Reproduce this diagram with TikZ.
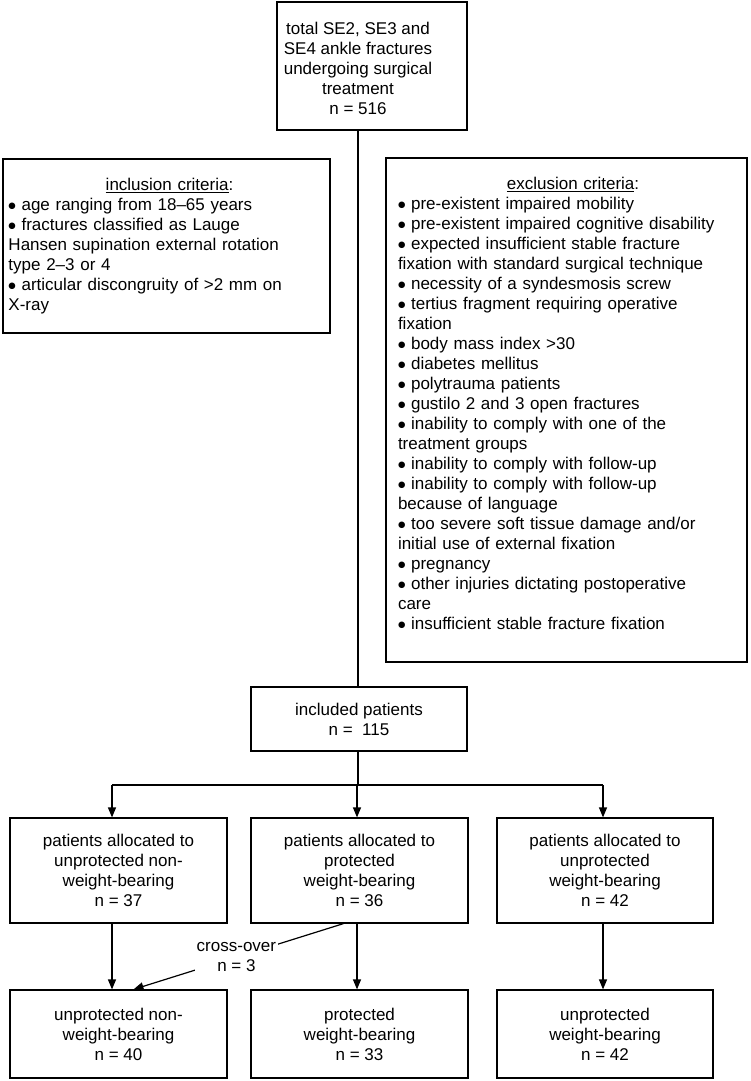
\documentclass[tikz,border=0pt]{standalone}
\usepackage{fontspec}
\setmainfont{Liberation Sans}
\newfontfamily\dejavu{DejaVu Sans}
\usetikzlibrary{arrows.meta}
\newcommand\blt{\raisebox{2pt}{\dejavu\fontsize{8.5}{8.5}\selectfont ●}}
\begin{document}
\begin{tikzpicture}[x=1pt,y=-1pt,
  box/.style={draw=black, line width=1.2pt, rectangle, inner sep=0pt, align=center,
    font=\fontsize{17}{20}\selectfont},
  txt/.style={font=\fontsize{17}{20}\selectfont},
  ln/.style={line width=1.2pt},
  arr/.style={line width=1.2pt, -{Triangle[length=10pt,width=8pt]}}]
\useasboundingbox (0,0) rectangle (750,1081);

% top
\node[box, minimum width=190pt, minimum height=128pt] (top) at (372,66) {};
\node[txt, align=center] (toptext) at (358,68) {total SE2, SE3 and\\SE4 ankle fractures\\undergoing surgical\\treatment\\n = 516};

% inclusion
\node[box, minimum width=327pt, minimum height=174pt, text width=316pt, align=left] (inc) at (166.5,246) {%
\makebox[316pt][c]{\hspace*{6pt}\underline{inclusion criteria}:}\\
\blt\ age ranging from 18–65 years\\
\blt\ fractures classified as Lauge\\
Hansen supination external rotation\\
type 2–3 or 4\\
\blt\ articular discongruity of >2 mm on\\
X-ray};

% exclusion
\node[box, minimum width=361pt, minimum height=504pt, text width=337pt, align=left] (exc) at (566.5,410) {%
\makebox[337pt][c]{\hspace*{13pt}\underline{exclusion criteria}:}\\
\blt\ pre-existent impaired mobility\\
\blt\ pre-existent impaired cognitive disability\\
\blt\ expected insufficient stable fracture\\
fixation with standard surgical technique\\
\blt\ necessity of a syndesmosis screw\\
\blt\ tertius fragment requiring operative\\
fixation\\
\blt\ body mass index >30\\
\blt\ diabetes mellitus\\
\blt\ polytrauma patients\\
\blt\ gustilo 2 and 3 open fractures\\
\blt\ inability to comply with one of the\\
treatment groups\\
\blt\ inability to comply with follow-up\\
\blt\ inability to comply with follow-up\\
because of language\\
\blt\ too severe soft tissue damage and/or\\
initial use of external fixation\\
\blt\ pregnancy\\
\blt\ other injuries dictating postoperative\\
care\\
\blt\ insufficient stable fracture fixation\rule[-14pt]{0pt}{14pt}};

% included
\node[box, minimum width=216pt, minimum height=64pt] (incl) at (359,719) {included patients\\n = \ 115};

% groups
\node[box, minimum width=217pt, minimum height=105pt] (g1) at (118.5,870.5) {patients allocated to\\unprotected non-\\weight-bearing\\n = 37};
\node[box, minimum width=217pt, minimum height=105pt] (g2) at (359.5,870.5) {patients allocated to\\protected\\weight-bearing\\n = 36};
\node[box, minimum width=216pt, minimum height=105pt] (g3) at (605,870.5) {patients allocated to\\unprotected\\weight-bearing\\n = 42};

% outcomes
\node[box, minimum width=217pt, minimum height=88pt] (b1) at (118.5,1034) {unprotected non-\\weight-bearing\\n = 40};
\node[box, minimum width=217pt, minimum height=88pt] (b2) at (359.5,1034) {protected\\weight-bearing\\n = 33};
\node[box, minimum width=216pt, minimum height=88pt] (b3) at (605,1034) {unprotected\\weight-bearing\\n = 42};

% connectors
\coordinate (split) at (358,785);
\draw[ln] (top.south -| split) -- (split |- incl.north);
\draw[ln] (split |- incl.south) -- (split);
\coordinate (a1) at ([xshift=-6.5pt]g1.north);
\coordinate (a2) at ([xshift=-2.5pt]g2.north);
\coordinate (a3) at ([xshift=-2pt]g3.north);
\draw[ln] (a1 |- split) -- (a3 |- split);
\draw[arr] (a1 |- split) -- (a1);
\draw[arr] (a2 |- split) -- (a2);
\draw[arr] (a3 |- split) -- (a3);
\coordinate (c1) at ([xshift=-6.5pt]b1.north);
\coordinate (c2) at ([xshift=-2.5pt]b2.north);
\coordinate (c3) at ([xshift=-2pt]b3.north);
\draw[arr] (c1 |- g1.south) -- (c1);
\draw[arr] (c2 |- g2.south) -- (c2);
\draw[arr] (c3 |- g3.south) -- (c3);
\coordinate (xs) at ([xshift=-16pt]g2.south);
\coordinate (xe) at ([xshift=15pt]b1.north);
\draw[arr] (xs) -- node[txt, fill=white, align=center, inner sep=2pt, pos=0.51] (xlabel) {cross-over\\n = 3} (xe);
\end{tikzpicture}
\end{document}
